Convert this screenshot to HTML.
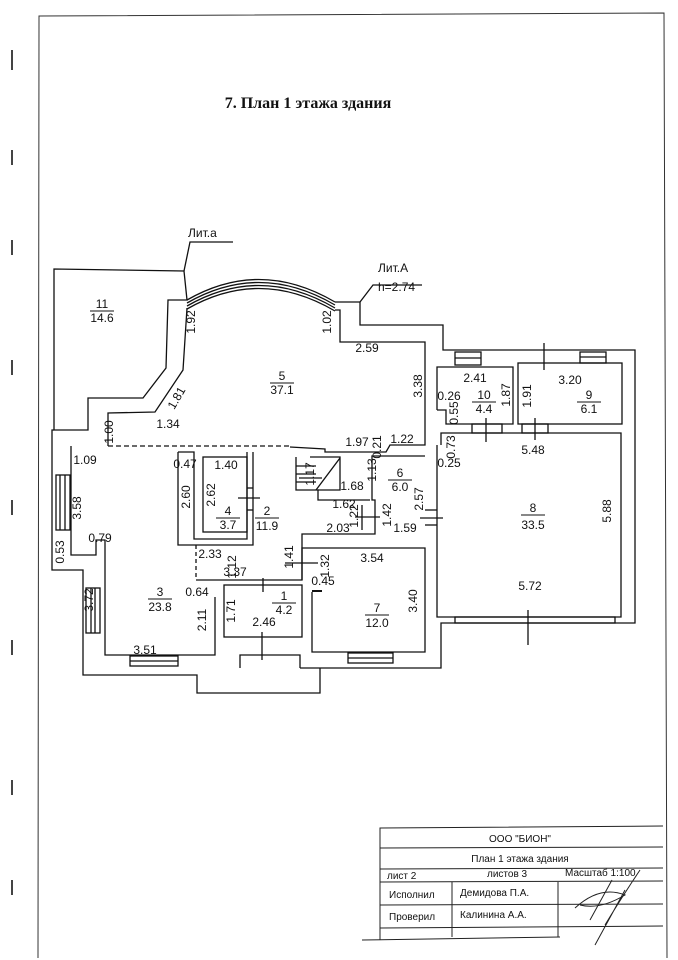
<!DOCTYPE html>
<html><head><meta charset="utf-8"><style>
html,body{margin:0;padding:0;background:#fff;}
svg{display:block;}
text{font-family:"Liberation Sans",sans-serif;font-size:12px;fill:#111;}
.t{font-size:10px;}
</style></head><body>
<svg width="678" height="960" viewBox="0 0 678 960" xmlns="http://www.w3.org/2000/svg">
<rect width="678" height="960" fill="#fff"/>
<polyline points="38,958 39,16 664,13 667,958" fill="none" stroke="#333" stroke-width="1"/>
<g stroke="#444" stroke-width="2">
<line x1="12" y1="50" x2="12" y2="70"/><line x1="12" y1="150" x2="12" y2="165"/><line x1="12" y1="240" x2="12" y2="255"/><line x1="12" y1="360" x2="12" y2="375"/><line x1="12" y1="500" x2="12" y2="515"/><line x1="12" y1="640" x2="12" y2="655"/><line x1="12" y1="780" x2="12" y2="795"/><line x1="12" y1="880" x2="12" y2="895"/>
</g>
<text x="308" y="108" text-anchor="middle" style="font-family:'Liberation Serif',serif;font-size:16px;font-weight:bold">7. План 1 этажа здания</text>

<g fill="none" stroke="#111" stroke-width="1.3">
<polyline points="184,271 190,242 233,242"/>
<polyline points="360,302 373,285 422,285"/>
<polygon points="54,269 184,271 187,300 168,300 166,368 143,398 88,398 88,430 54,430"/>
<polyline points="187,308 183,370 155,412 108,413 108,446"/>
<path d="M187,300 Q260,258 335,302"/>
<path d="M187,303 Q260,261 335,305"/>
<path d="M187,306 Q260,264 335,308"/>
<path d="M187,309 Q260,267 335,311"/>
<polyline points="335,302 360,302 360,325 443,325 443,350 635,350 635,623 441,623 441,668 300,668"/>
<polyline points="335,310 340,310 340,342 425,342 425,445 390,445 386,452 325,452 325,449 290,447"/>
<polyline points="54,430 52,430 52,570 83,570 83,675 197,675 197,693 320,693 320,668"/>
<polyline points="71,446 71,555 96,555 96,540 105,540 105,655 215,655 215,597"/>
<line x1="108" y1="446" x2="290" y2="446" stroke-dasharray="5,3"/>
<rect x="56" y="475" width="14" height="55"/><line x1="60" y1="475" x2="60" y2="530"/><line x1="65" y1="475" x2="65" y2="530"/>
<rect x="86" y="588" width="14" height="45"/><line x1="91" y1="588" x2="91" y2="633"/><line x1="95" y1="588" x2="95" y2="633"/>
<rect x="130" y="656" width="48" height="10"/><line x1="130" y1="661" x2="178" y2="661"/>
<rect x="348" y="653" width="45" height="10"/><line x1="348" y1="658" x2="393" y2="658"/>
<rect x="455" y="617" width="160" height="6"/>
<polyline points="178,452 178,545 253,545 253,452"/>
<polyline points="178,452 194,452 194,539 247,539 247,452"/>
<rect x="203" y="457" width="44" height="75"/>
<line x1="238" y1="498" x2="260" y2="498"/><line x1="247" y1="488" x2="253" y2="488"/><line x1="247" y1="510" x2="253" y2="510"/>
<line x1="196" y1="545" x2="196" y2="580" stroke-dasharray="4,3"/>
<polyline points="196,580 302,580 302,534 375,534 375,500 372,500 372,456 425,456"/>
<rect x="224" y="585" width="78" height="52"/>
<line x1="263" y1="578" x2="263" y2="592"/><line x1="262" y1="632" x2="262" y2="660"/>
<polyline points="240,668 240,655 300,655 300,668"/>
<polyline points="296,457 296,490 318,490 318,500 370,500"/>
<polyline points="310,457 340,457 340,490 318,490"/>
<line x1="316" y1="490" x2="340" y2="458"/>
<line x1="296" y1="466" x2="316" y2="466"/><line x1="296" y1="474" x2="316" y2="474"/><line x1="296" y1="482" x2="316" y2="482"/>
<line x1="299" y1="478" x2="322" y2="478"/>
<line x1="362" y1="505" x2="362" y2="530"/><line x1="355" y1="517" x2="380" y2="517"/>
<polyline points="312,548 425,548 425,652 312,652 312,592"/>
<polyline points="302,580 302,548 312,548"/>
<line x1="285" y1="563" x2="318" y2="563"/>
<line x1="312" y1="591" x2="322" y2="591" stroke-width="2"/>
<line x1="425" y1="510" x2="437" y2="510"/><line x1="425" y1="525" x2="437" y2="525"/><line x1="420" y1="518" x2="443" y2="518"/>
<polyline points="437,410 437,367 513,367 513,424 446,424 446,410 437,410"/>
<rect x="518" y="363" width="104" height="61"/>
<rect x="455" y="352" width="26" height="13"/><line x1="455" y1="358" x2="481" y2="358"/>
<rect x="580" y="352" width="26" height="11"/><line x1="580" y1="357" x2="606" y2="357"/>
<line x1="544" y1="343" x2="544" y2="370"/>
<polyline points="437,445 437,617 621,617 621,433 441,433 441,445"/>
<rect x="472" y="424" width="30" height="9"/><rect x="522" y="424" width="26" height="9"/>
<line x1="486" y1="418" x2="486" y2="442"/><line x1="535" y1="418" x2="535" y2="440"/>
<line x1="528" y1="610" x2="528" y2="645"/>
</g>
<g text-anchor="middle">
<text x="188" y="237" text-anchor="start">Лит.а</text>
<text x="378" y="272" text-anchor="start">Лит.А</text>
<text x="378" y="291" text-anchor="start">h=2.74</text>
<text x="102" y="308">11</text><line x1="90" y1="311" x2="114" y2="311" stroke="#111"/><text x="102" y="322">14.6</text>
<text x="282" y="380">5</text><line x1="270" y1="383" x2="294" y2="383" stroke="#111"/><text x="282" y="394">37.1</text>
<text x="267" y="515">2</text><line x1="255" y1="518" x2="279" y2="518" stroke="#111"/><text x="267" y="530">11.9</text>
<text x="228" y="515">4</text><line x1="216" y1="518" x2="240" y2="518" stroke="#111"/><text x="228" y="529">3.7</text>
<text x="160" y="596">3</text><line x1="148" y1="599" x2="172" y2="599" stroke="#111"/><text x="160" y="611">23.8</text>
<text x="284" y="600">1</text><line x1="272" y1="603" x2="296" y2="603" stroke="#111"/><text x="284" y="614">4.2</text>
<text x="377" y="612">7</text><line x1="365" y1="615" x2="389" y2="615" stroke="#111"/><text x="377" y="627">12.0</text>
<text x="400" y="477">6</text><line x1="388" y1="480" x2="412" y2="480" stroke="#111"/><text x="400" y="491">6.0</text>
<text x="533" y="512">8</text><line x1="521" y1="515" x2="545" y2="515" stroke="#111"/><text x="533" y="529">33.5</text>
<text x="484" y="399">10</text><line x1="472" y1="402" x2="496" y2="402" stroke="#111"/><text x="484" y="413">4.4</text>
<text x="589" y="399">9</text><line x1="577" y1="402" x2="601" y2="402" stroke="#111"/><text x="589" y="413">6.1</text>
<text x="85" y="464">1.09</text>
<text x="185" y="468">0.47</text>
<text x="226" y="469">1.40</text>
<text x="168" y="428">1.34</text>
<text x="210" y="558">2.33</text>
<text x="235" y="576">3.37</text>
<text x="197" y="596">0.64</text>
<text x="264" y="626">2.46</text>
<text x="145" y="654">3.51</text>
<text x="100" y="542">0.79</text>
<text x="357" y="446">1.97</text>
<text x="402" y="443">1.22</text>
<text x="352" y="490">1.68</text>
<text x="344" y="508">1.62</text>
<text x="338" y="532">2.03</text>
<text x="405" y="532">1.59</text>
<text x="372" y="562">3.54</text>
<text x="323" y="585">0.45</text>
<text x="367" y="352">2.59</text>
<text x="475" y="382">2.41</text>
<text x="570" y="384">3.20</text>
<text x="449" y="400">0.26</text>
<text x="449" y="467">0.25</text>
<text x="533" y="454">5.48</text>
<text x="530" y="590">5.72</text>
</g>
<g text-anchor="middle">
<text transform="translate(195,322) rotate(-90)">1.92</text>
<text transform="translate(331,322) rotate(-90)">1.02</text>
<text transform="translate(180,400) rotate(-60)">1.81</text>
<text transform="translate(113,432) rotate(-90)">1.00</text>
<text transform="translate(81,508) rotate(-90)">3.58</text>
<text transform="translate(64,552) rotate(-90)">0.53</text>
<text transform="translate(93,600) rotate(-90)">3.72</text>
<text transform="translate(190,497) rotate(-90)">2.60</text>
<text transform="translate(215,495) rotate(-90)">2.62</text>
<text transform="translate(236,567) rotate(-90)">1.12</text>
<text transform="translate(206,620) rotate(-90)">2.11</text>
<text transform="translate(235,611) rotate(-90)">1.71</text>
<text transform="translate(293,557) rotate(-90)">1.41</text>
<text transform="translate(329,566) rotate(-90)">1.32</text>
<text transform="translate(314,474) rotate(-90)">1.17</text>
<text transform="translate(376,470) rotate(-90)">1.13</text>
<text transform="translate(381,447) rotate(-90)">0.21</text>
<text transform="translate(358,516) rotate(-90)">1.22</text>
<text transform="translate(391,515) rotate(-90)">1.42</text>
<text transform="translate(423,499) rotate(-90)">2.57</text>
<text transform="translate(422,386) rotate(-90)">3.38</text>
<text transform="translate(417,601) rotate(-90)">3.40</text>
<text transform="translate(458,413) rotate(-90)">0.55</text>
<text transform="translate(455,447) rotate(-90)">0.73</text>
<text transform="translate(510,395) rotate(-90)">1.87</text>
<text transform="translate(531,396) rotate(-90)">1.91</text>
<text transform="translate(611,511) rotate(-90)">5.88</text>
</g>
<g fill="none" stroke="#222" stroke-width="1">
<polyline points="380,940 380,828 663,826"/>
<line x1="380" y1="848" x2="663" y2="847"/>
<line x1="380" y1="869" x2="663" y2="868"/>
<line x1="380" y1="882" x2="663" y2="881"/>
<line x1="380" y1="905" x2="663" y2="904"/>
<line x1="380" y1="928" x2="663" y2="926"/>
<line x1="452" y1="882" x2="452" y2="937"/>
<line x1="558" y1="882" x2="558" y2="937"/>
<line x1="362" y1="940" x2="560" y2="937"/>
<path d="M575,908 Q600,885 625,895 Q600,910 580,905 M590,920 L612,880 M605,925 Q620,900 640,870 M595,945 L625,890"/>
</g>
<g>
<text class="t" x="520" y="842" text-anchor="middle">ООО "БИОН"</text>
<text class="t" x="520" y="862" text-anchor="middle">План 1 этажа здания</text>
<text class="t" x="387" y="879">лист 2</text>
<text class="t" x="487" y="877">листов 3</text>
<text class="t" x="565" y="876">Масштаб 1:100</text>
<text class="t" x="389" y="898">Исполнил</text>
<text class="t" x="460" y="896">Демидова П.А.</text>
<text class="t" x="389" y="920">Проверил</text>
<text class="t" x="460" y="918">Калинина А.А.</text>
</g>
</svg>
</body></html>
